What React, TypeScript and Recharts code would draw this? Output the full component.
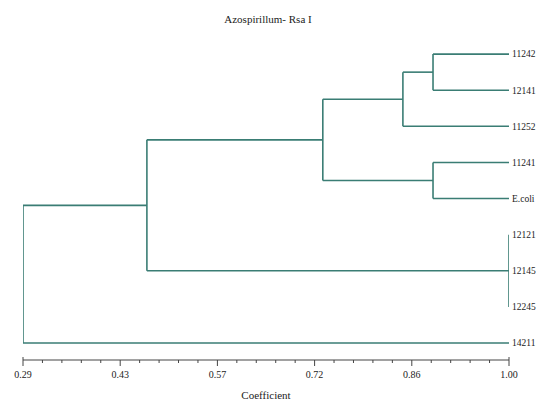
import { ComposedChart, Line, XAxis, YAxis, Label } from 'recharts'

// leaves, top to bottom
const leaves = ['11242', '12141', '11252', '11241', 'E.coli', '12121', '12145', '12245', '14211']
const leafLevel = 1.0

// internal nodes: children + coefficient where they join
const nodeNames = ['n1', 'n2', 'n3', 'n4', 'n5', 'n6', 'root']
const nodeChildren = [
  ['11242', '12141'],
  ['n1', '11252'],
  ['11241', 'E.coli'],
  ['n2', 'n3'],
  ['12121', '12145', '12245'],
  ['n4', 'n5'],
  ['n6', '14211'],
]
const nodeLevels = [0.889, 0.845, 0.889, 0.728, 1.0, 0.471, 0.29]

const tickLabels = ['0.29', '0.43', '0.57', '0.72', '0.86', '1.00']

const LINE = '#3a7d74'
const AXIS = '#444'
const FONT = "'Times New Roman', 'Liberation Serif', 'DejaVu Serif', serif"

type Pt = { x: number; y: number }

function buildSegments() {
  const pos: Record<string, Pt> = {}
  leaves.forEach((l, i) => { pos[l] = { x: leafLevel, y: i } })
  const segs: Pt[][] = []
  nodeNames.forEach((n, i) => {
    const ys = nodeChildren[i].map((c) => pos[c].y)
    const lo = Math.min(...ys)
    const hi = Math.max(...ys)
    const x = nodeLevels[i]
    pos[n] = { x, y: (lo + hi) / 2 }
    segs.push([{ x, y: lo }, { x, y: hi }])
    nodeChildren[i].forEach((c) => {
      if (pos[c].x !== x) segs.push([{ x, y: pos[c].y }, { x: pos[c].x, y: pos[c].y }])
    })
  })
  return segs
}

const segments = buildSegments()

// 5 major intervals, 4 minor ticks in each
const xMin = 0.29
const xMax = 1.0
const xTicks = Array.from({ length: 26 }, (_, i) => xMin + ((xMax - xMin) * i) / 25)

function CoefTick(props: any) {
  const { x, y, index } = props
  const major = index % 5 === 0
  const end = index === 0 || index === 25
  return (
    <g>
      <line x1={x} x2={x} y1={end ? y - 3 : y} y2={y + (major ? 6 : 3)} stroke={AXIS} strokeWidth={1} />
      {major && (
        <text x={x} y={y + 18} textAnchor="middle" fontSize={10} fill="#222" style={{ fontFamily: FONT }}>
          {tickLabels[index / 5]}
        </text>
      )}
    </g>
  )
}

export default function App() {
  return (
    <div style={{ position: 'absolute', left: 0, top: 0, width: 544, height: 403, background: '#fff', fontFamily: FONT }}>
      <div
        style={{
          position: 'absolute', left: 0, top: 13, width: 536, textAlign: 'center',
          fontFamily: FONT, fontSize: 11, color: '#222',
        }}
      >
        Azospirillum- Rsa I
      </div>
      <ComposedChart
        width={544}
        height={403}
        margin={{ top: 40, right: 0, bottom: 0, left: 23 }}
        style={{ fontFamily: FONT }}
      >
        <XAxis
          type="number"
          dataKey="x"
          domain={[xMin, xMax]}
          ticks={xTicks}
          interval={0}
          height={43}
          stroke={AXIS}
          tickLine={false}
          tickSize={0}
          tickMargin={0}
          tick={<CoefTick />}
          allowDataOverflow
        >
          <Label value="Coefficient" position="insideBottom" offset={4} fontSize={11} fill="#222" style={{ fontFamily: FONT }} />
        </XAxis>
        <YAxis
          type="number"
          orientation="right"
          reversed
          domain={[-0.39, 8.47]}
          ticks={leaves.map((_, i) => i)}
          interval={0}
          width={35}
          axisLine={false}
          tickLine={false}
          tickSize={0}
          tickMargin={3}
          tickFormatter={(i: number) => leaves[i]}
          tick={{ fontSize: 9.5, fill: '#222', textAnchor: 'start', style: { fontFamily: FONT } }}
          allowDataOverflow
        />
        {segments.map((s, i) => (
          <Line
            key={i}
            data={s}
            dataKey="y"
            stroke={LINE}
            strokeWidth={1.6}
            dot={false}
            activeDot={false}
            isAnimationActive={false}
          />
        ))}
      </ComposedChart>
    </div>
  )
}
